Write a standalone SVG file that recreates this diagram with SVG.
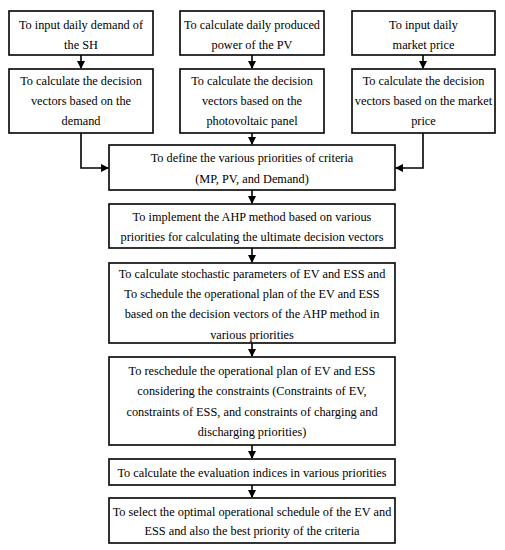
<svg xmlns="http://www.w3.org/2000/svg" width="505" height="550" viewBox="0 0 505 550">
<defs>
<marker id="ah" markerWidth="8" markerHeight="8" refX="7" refY="4" orient="auto" markerUnits="userSpaceOnUse">
<path d="M0,0 L8,4 L0,8 Z" fill="#000"/>
</marker>
<style>
rect{fill:#fff;stroke:#000;stroke-width:1.6}
text{font-family:"Liberation Serif","DejaVu Serif",serif;font-size:12.3px;fill:#000;text-anchor:middle}
.c{fill:none;stroke:#000;stroke-width:1.6}
</style>
</defs>
<rect x="0" y="0" width="505" height="550" style="stroke:none;fill:#fff"/>
<g id="connectors">
<path class="c" d="M81,55 V68" marker-end="url(#ah)"/>
<path class="c" d="M252,55 V68" marker-end="url(#ah)"/>
<path class="c" d="M423,55 V68" marker-end="url(#ah)"/>
<path class="c" d="M81,133 V168 H108" marker-end="url(#ah)"/>
<path class="c" d="M252,133 V144" marker-end="url(#ah)"/>
<path class="c" d="M423,133 V168 H396" marker-end="url(#ah)"/>
<path class="c" d="M252,190 V203" marker-end="url(#ah)"/>
<path class="c" d="M252,248 V262" marker-end="url(#ah)"/>
<path class="c" d="M252,343 V356" marker-end="url(#ah)"/>
<path class="c" d="M252,445 V458" marker-end="url(#ah)"/>
<path class="c" d="M252,485 V497" marker-end="url(#ah)"/>
</g>
<g id="n1"><rect x="9" y="11" width="144" height="44"/><text x="81" y="28.5">To input daily demand of</text><text x="81" y="48.5">the SH</text></g>
<g id="n2"><rect x="180" y="11" width="144" height="44"/><text x="252" y="28.5">To calculate daily produced</text><text x="252" y="48.5">power of the PV</text></g>
<g id="n3"><rect x="352" y="11" width="143" height="44"/><text x="423.5" y="28.5">To input daily</text><text x="423.5" y="48.5">market price</text></g>
<g id="n4"><rect x="9" y="69" width="144" height="64"/><text x="81" y="85">To calculate the decision</text><text x="81" y="105">vectors based on the</text><text x="81" y="125">demand</text></g>
<g id="n5"><rect x="180" y="69" width="144" height="64"/><text x="252" y="85">To calculate the decision</text><text x="252" y="105">vectors based on the</text><text x="252" y="125">photovoltaic panel</text></g>
<g id="n6"><rect x="352" y="69" width="143" height="64"/><text x="423.5" y="85">To calculate the decision</text><text x="423.5" y="105">vectors based on the market</text><text x="423.5" y="125">price</text></g>
<g id="n7"><rect x="109" y="145" width="286" height="45"/><text x="252" y="162">To define the various priorities of criteria</text><text x="252" y="183">(MP, PV, and Demand)</text></g>
<g id="n8"><rect x="109" y="204" width="286" height="44"/><text x="252" y="221">To implement the AHP method based on various</text><text x="252" y="241">priorities for calculating the ultimate decision vectors</text></g>
<g id="n9"><rect x="109" y="263" width="286" height="80"/><text x="252" y="278">To calculate stochastic parameters of EV and ESS and</text><text x="252" y="298">To schedule the operational plan of the EV and ESS</text><text x="252" y="318">based on the decision vectors of the AHP method in</text><text x="252" y="339">various priorities</text></g>
<g id="n10"><rect x="109" y="357" width="286" height="88"/><text x="252" y="375">To reschedule the operational plan of EV and ESS</text><text x="252" y="395">considering the constraints (Constraints of EV,</text><text x="252" y="416">constraints of ESS, and constraints of charging and</text><text x="252" y="436">discharging priorities)</text></g>
<g id="n11"><rect x="109" y="459" width="286" height="26"/><text x="252" y="477">To calculate the evaluation indices in various priorities</text></g>
<g id="n12"><rect x="109" y="498" width="286" height="45"/><text x="252" y="516">To select the optimal operational schedule of the EV and</text><text x="252" y="535">ESS and also the best priority of the criteria</text></g>
</svg>
